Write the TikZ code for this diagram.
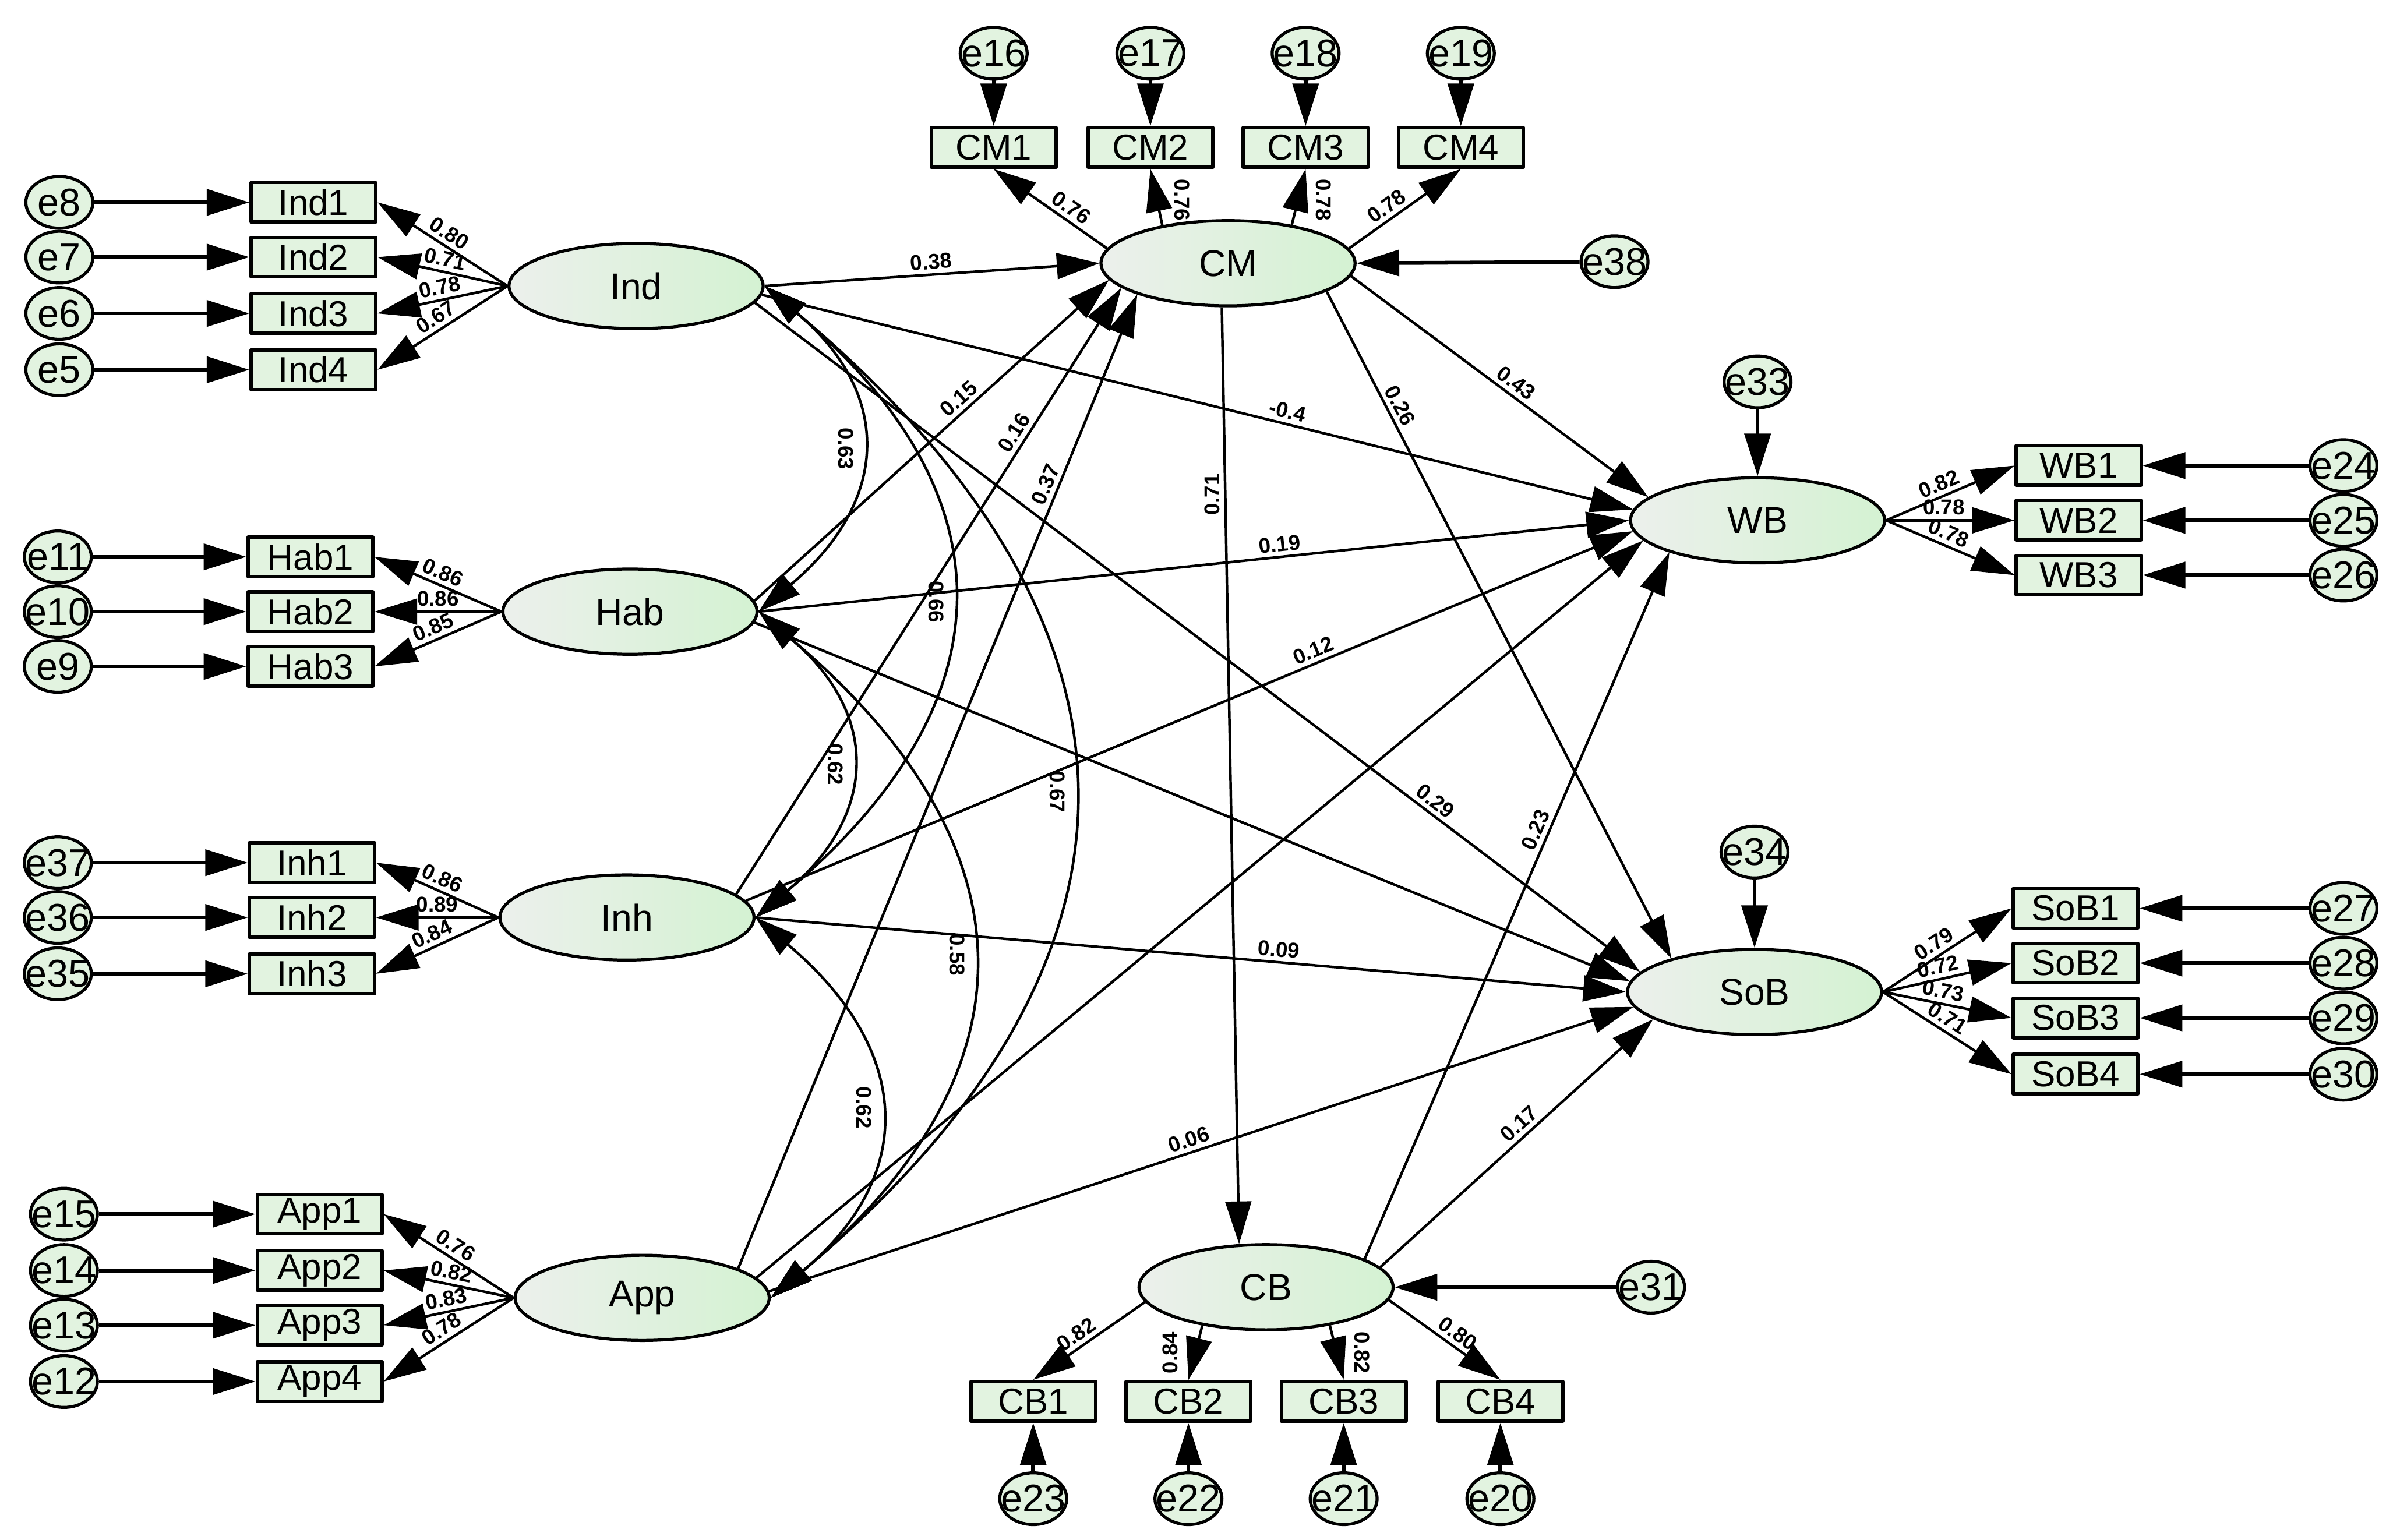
\documentclass[tikz,border=0pt]{standalone}
\usepackage{fontspec}
\setmainfont{Liberation Sans}
\usetikzlibrary{arrows.meta,shapes.geometric}
\definecolor{verdecaja}{RGB}{226,243,224}
\definecolor{latgris}{RGB}{236,240,236}
\definecolor{latverde}{RGB}{212,242,210}
\newcommand{\etq}[1]{\makebox[0pt]{#1}}
\begin{document}
\begin{tikzpicture}[x=0.2mm, y=0.2mm, line width=0.34mm, line join=round,
  lat/.style={ellipse, draw, line width=0.4mm, left color=latgris, right color=latverde,
    minimum width=33.4mm, minimum height=11.2mm, font=\fontsize{14}{16}\selectfont},
  obs/.style={draw, line width=0.45mm, fill=verdecaja, minimum width=16.4mm,
    minimum height=5.2mm, inner sep=0pt, font=\fontsize{13.5}{15}\selectfont},
  err/.style={ellipse, draw, line width=0.4mm, fill=verdecaja, minimum width=8.8mm,
    minimum height=6.8mm, inner sep=0pt, font=\fontsize{14.5}{16}\selectfont},
  punta/.style={-{Triangle[length=5.6mm, width=3.4mm]}},
  resid/.style={punta, line width=0.5mm},
  cov/.style={{Triangle[length=5.6mm, width=3.4mm]}-{Triangle[length=5.6mm, width=3.4mm]},
    out=-40, in=40, looseness=1.33},
  coef/.style={font=\bfseries\fontsize{8}{9}\selectfont, inner sep=1.5pt},
  lado/.style={coef, anchor=south, outer sep=1.8mm}]
  \useasboundingbox (0,0) rectangle (1568,-1012);
  % variables latentes
  \node[lat] (Ind) at (418,-188) {Ind};
  \node[lat] (Hab) at (414,-402) {Hab};
  \node[lat] (Inh) at (412,-603) {Inh};
  \node[lat] (App) at (422,-853) {App};
  \node[lat] (CM) at (807,-173) {CM};
  \node[lat] (CB) at (832,-846) {CB};
  \node[lat] (WB) at (1155,-342) {WB};
  \node[lat] (SoB) at (1153,-652) {SoB};
  % indicadores de la izquierda, con sus errores
  \foreach \i/\y/\e in {1/133/8, 2/169/7, 3/206/6, 4/243/5} {
    \node[obs] (Ind\i) at (206,-\y) {Ind\i};
    \node[err] (e\e) at (39,-\y) {\etq{e\e}};
    \draw[resid] (e\e) -- (Ind\i);
  }
  \foreach \i/\y/\e in {1/366/11, 2/402/10, 3/438/9} {
    \node[obs] (Hab\i) at (204,-\y) {Hab\i};
    \node[err] (e\e) at (38,-\y) {\etq{e\e}};
    \draw[resid] (e\e) -- (Hab\i);
  }
  \foreach \i/\y/\e in {1/567/37, 2/603/36, 3/640/35} {
    \node[obs] (Inh\i) at (205,-\y) {Inh\i};
    \node[err] (e\e) at (38,-\y) {\etq{e\e}};
    \draw[resid] (e\e) -- (Inh\i);
  }
  \foreach \i/\y/\e in {1/798/15, 2/835/14, 3/871/13, 4/908/12} {
    \node[obs] (App\i) at (210,-\y) {App\i};
    \node[err] (e\e) at (42,-\y) {\etq{e\e}};
    \draw[resid] (e\e) -- (App\i);
  }
  \foreach \i/\val in {1/0.80, 2/0.71, 3/0.78, 4/0.67}
    \draw[punta] (Ind.west) -- node[coef, sloped, above, pos=0.5] {\val} (Ind\i.east);
  \foreach \i/\val in {1/0.86, 2/0.86, 3/0.85}
    \draw[punta] (Hab.west) -- node[coef, sloped, above, pos=0.5] {\val} (Hab\i.east);
  \foreach \i/\val in {1/0.86, 2/0.89, 3/0.84}
    \draw[punta] (Inh.west) -- node[coef, sloped, above, pos=0.5] {\val} (Inh\i.east);
  \foreach \i/\val in {1/0.76, 2/0.82, 3/0.83, 4/0.78}
    \draw[punta] (App.west) -- node[coef, sloped, above, pos=0.5] {\val} (App\i.east);
  % CM arriba y CB abajo
  \foreach \i/\x/\e in {1/653/16, 2/756/17, 3/858/18, 4/960/19} {
    \node[obs] (CM\i) at (\x,-97) {CM\i};
    \node[err] (e\e) at (\x,-35) {\etq{e\e}};
    \draw[resid] (e\e) -- (CM\i);
  }
  \foreach \i/\x/\e in {1/679/23, 2/781/22, 3/883/21, 4/986/20} {
    \node[obs] (CB\i) at (\x,-921) {CB\i};
    \node[err] (e\e) at (\x,-985) {\etq{e\e}};
    \draw[resid] (e\e) -- (CB\i);
  }
  \draw[punta] (CM.173) -- node[coef, sloped, above, pos=0.38] {0.76} (CM1.south);
  \draw[punta] (CM.150) -- node[lado, rotate=-90, pos=0.45] {0.76} (CM2.south);
  \draw[punta] (CM.31) -- node[lado, rotate=-90, pos=0.45] {0.78} (CM3.south);
  \draw[punta] (CM.7) -- node[coef, sloped, above, pos=0.4] {0.78} (CM4.south);
  \draw[punta] (CB.187) -- node[coef, sloped, above, pos=0.55] {0.82} (CB1.north);
  \draw[punta] (CB.211) -- node[lado, rotate=90, pos=0.5] {0.84} (CB2.north);
  \draw[punta] (CB.329) -- node[lado, rotate=-90, pos=0.5] {0.82} (CB3.north);
  \draw[punta] (CB.354) -- node[coef, sloped, above, pos=0.55] {0.80} (CB4.north);
  \node[err] (e38) at (1061,-172) {\etq{e38}};
  \node[err] (e31) at (1085,-846) {\etq{e31}};
  \draw[resid] (e38) -- (CM.east);
  \draw[resid] (e31) -- (CB.east);
  % WB y SoB a la derecha
  \node[err] (e33) at (1155,-251) {\etq{e33}};
  \node[err] (e34) at (1153,-560) {\etq{e34}};
  \draw[resid] (e33) -- (WB.north);
  \draw[resid] (e34) -- (SoB.north);
  \foreach \i/\y/\e in {1/306/24, 2/342/25, 3/378/26} {
    \node[obs] (WB\i) at (1366,-\y) {WB\i};
    \node[err] (e\e) at (1540,-\y) {\etq{e\e}};
    \draw[resid] (e\e) -- (WB\i);
  }
  \foreach \i/\y/\e in {1/597/27, 2/633/28, 3/669/29, 4/706/30} {
    \node[obs] (SoB\i) at (1364,-\y) {SoB\i};
    \node[err] (e\e) at (1540,-\y) {\etq{e\e}};
    \draw[resid] (e\e) -- (SoB\i);
  }
  \foreach \i/\val in {1/0.82, 2/0.78, 3/0.78}
    \draw[punta] (WB.east) -- node[coef, sloped, above, pos=0.45] {\val} (WB\i.west);
  \foreach \i/\val in {1/0.79, 2/0.72, 3/0.73, 4/0.71}
    \draw[punta] (SoB.east) -- node[coef, sloped, above, pos=0.45] {\val} (SoB\i.west);
  % covarianzas entre las exogenas
  \foreach \a/\b/\val in {Ind/Hab/0.63, Ind/Inh/0.66, Ind/App/0.67, Hab/Inh/0.62, Hab/App/0.58, Inh/App/0.62}
    \draw[cov] (\a.east) to node[coef, pos=0.5, rotate=-90, anchor=north] {\val} (\b.east);
  % caminos estructurales
  \draw[punta] (Ind.east) -- node[coef, sloped, above, pos=0.5] {0.38} (CM.west);
  \draw[punta] (Ind.-4) -- node[coef, sloped, above, pos=0.6] {-0.4} (WB.175);
  \draw[punta] (Ind.-8) -- node[coef, sloped, above, pos=0.76] {0.29} (SoB.170);
  \draw[punta] (Hab.5) -- node[coef, sloped, above, pos=0.6] {0.15} (CM.188);
  \draw[punta] (Hab.east) -- node[coef, sloped, above, pos=0.6] {0.19} (WB.180);
  \draw[punta] (Hab.-5) -- (SoB.175);
  \draw[punta] (Inh.12) -- node[coef, sloped, above, pos=0.75] {0.16} (CM.193);
  \draw[punta] (Inh.8) -- node[coef, sloped, above, pos=0.645] {0.12} (WB.185);
  \draw[punta] (Inh.east) -- node[coef, sloped, above, pos=0.6] {0.09} (SoB.180);
  \draw[punta] (App.17) -- node[coef, sloped, above, pos=0.8] {0.37} (CM.199);
  \draw[punta] (App.10) -- (WB.190);
  \draw[punta] (App.3) -- node[coef, sloped, above, pos=0.49] {0.06} (SoB.187);
  \draw[punta] (CM.-6) -- node[coef, sloped, above, pos=0.53] {0.43} (WB.168);
  \draw[punta] (CM.-16) -- node[coef, sloped, above, pos=0.18] {0.26} (SoB.158);
  \draw[punta] (CM.262) -- node[coef, rotate=90, anchor=south, pos=0.2] {0.71} (CB.122);
  \draw[punta] (CB.16) -- node[coef, sloped, above, pos=0.6] {0.23} (WB.200);
  \draw[punta] (CB.10) -- node[coef, sloped, above, pos=0.54] {0.17} (SoB.195);
\end{tikzpicture}
\end{document}
